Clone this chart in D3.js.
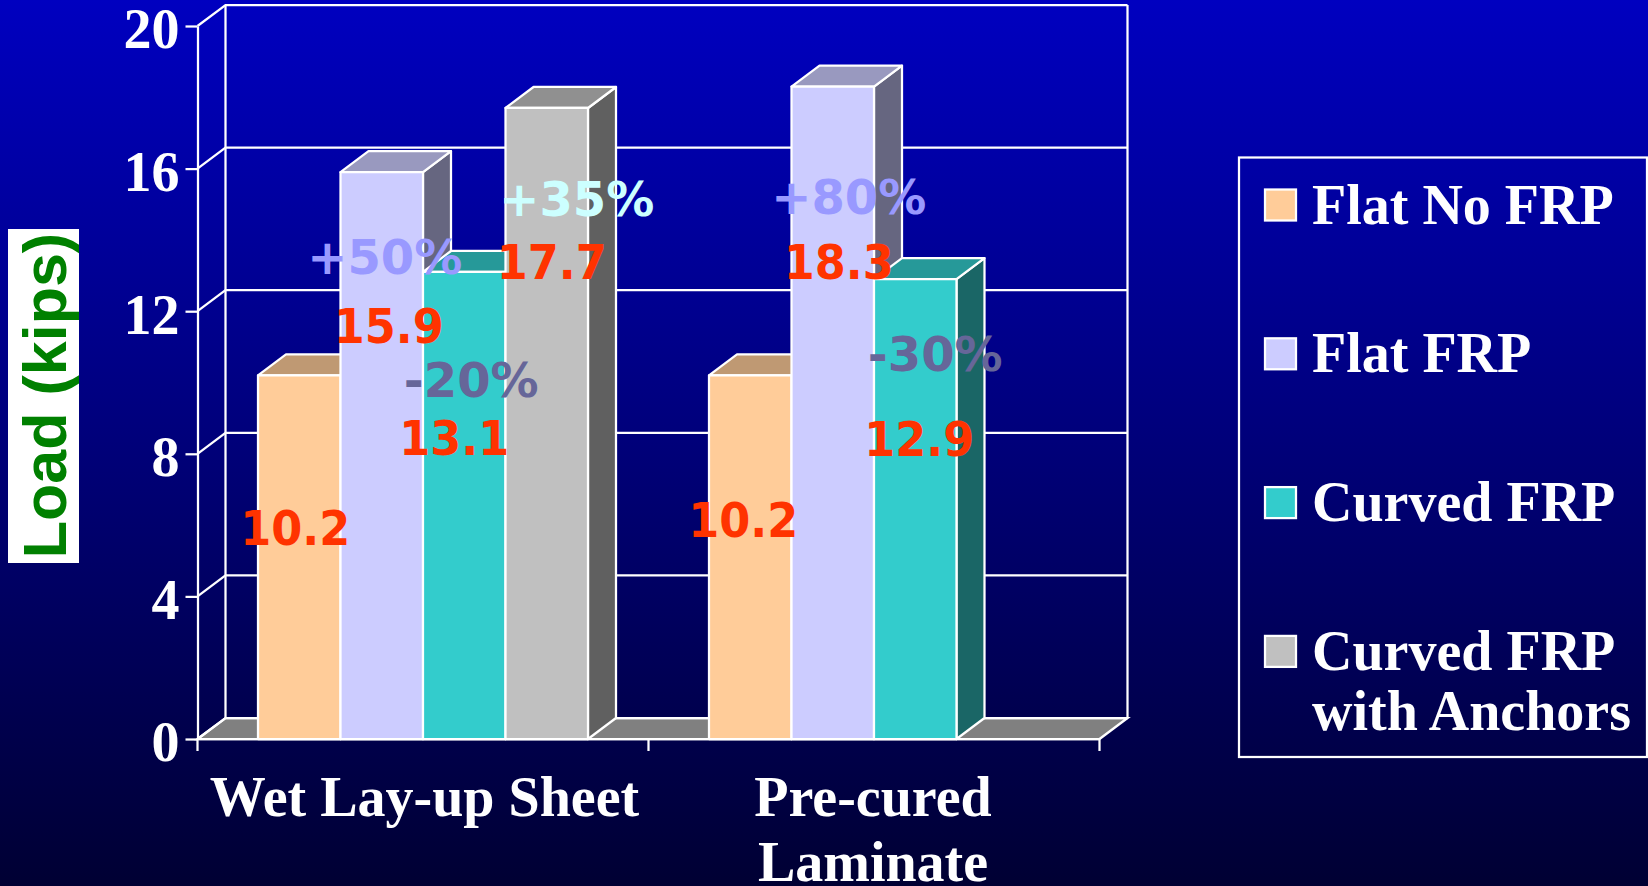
<!DOCTYPE html>
<html lang="en">

<head>
    <meta charset="UTF-8">
    <title>Load (kips)</title>
    <script src="https://d3js.org/d3.v7.min.js"></script>
    <style>
        body {
            margin: 0;
            overflow: hidden;
            background-color: #000033;
        }

        text {
            font-family: "Liberation Serif", serif;
            font-weight: bold;
            fill: #fff;
        }

        .callout {
            font-family: "DejaVu Sans", sans-serif;
            font-size: 48px;
            text-anchor: middle;
        }
    </style>
</head>

<body>
    <script>
        // Chart data
        const categories = ["Wet Lay-up Sheet", "Pre-cured Laminate"];
        const categoryLines = [["Wet Lay-up Sheet"], ["Pre-cured", "Laminate"]];
        const seriesNames = ["Flat No FRP", "Flat FRP", "Curved FRP", "Curved FRP with Anchors"];
        const legendLines = [["Flat No FRP"], ["Flat FRP"], ["Curved FRP"], ["Curved FRP", "with Anchors"]];
        const wetLayupValues = [10.2, 15.9, 13.1, 17.7];
        const preCuredValues = [10.2, 18.3, 12.9, null];
        const seriesColors = ["#ffcc99", "#ccccff", "#33cccc", "#c0c0c0"];
        const yTicks = [0, 4, 8, 12, 16, 20];

        // Percentage changes written over the bars: [category, series, text, colour]
        const changeNotes = [
            [0, 1, "+50%", "#9999ff"],
            [0, 2, "-20%", "#666699"],
            [0, 3, "+35%", "#ccffff"],
            [1, 1, "+80%", "#9999ff"],
            [1, 2, "-30%", "#666699"]
        ];

        // Hand placement of the labels, relative to bar centre and bar top
        const valueLabelNudge = [
            [[-4, 169.5], [7, 171], [-10, 183.5], [5, 171]],
            [[-7, 162], [6, 192.5], [4, 176.5], null]
        ];
        const changeNoteNudge = [[3, 102], [7, 125], [30, 108.5], [16, 127], [20, 92]];

        const width = 1648;
        const height = 886;
        const depthX = 28;
        const depthY = -21;
        const plotLeft = 197.5;
        const plotRight = 1099.5;
        const plotBottom = 739;
        const plotTop = 26;
        const barWidth = 82.5;
        const lineWidth = 2.25;

        const svg = d3.select("body").append("svg")
            .attr("width", width)
            .attr("height", height)
            .style("display", "block");

        // Slide background
        const gradient = svg.append("defs").append("linearGradient")
            .attr("id", "slideBg")
            .attr("x1", 0).attr("y1", 0).attr("x2", 0).attr("y2", 1);
        gradient.append("stop").attr("offset", "0%").attr("stop-color", "#0000c0");
        gradient.append("stop").attr("offset", "100%").attr("stop-color", "#000033");
        svg.append("rect").attr("width", width).attr("height", height).attr("fill", "url(#slideBg)");

        const x = d3.scaleBand().domain(categories).range([plotLeft, plotRight]);
        const xInner = d3.scaleBand().domain(seriesNames)
            .range([(x.bandwidth() - barWidth * 4) / 2, (x.bandwidth() + barWidth * 4) / 2]);
        const y = d3.scaleLinear().domain([0, 20]).range([plotBottom, plotTop]);

        // Floor of the 3D box
        svg.append("path")
            .attr("d", d3.line()([
                [plotLeft, plotBottom],
                [plotLeft + depthX, plotBottom + depthY],
                [plotRight + depthX, plotBottom + depthY],
                [plotRight, plotBottom]
            ]) + "Z")
            .attr("fill", "#808080")
            .attr("stroke", "#fff")
            .attr("stroke-width", lineWidth);

        // Back wall and side wall with gridlines
        const wall = svg.append("g")
            .attr("fill", "none")
            .attr("stroke", "#fff")
            .attr("stroke-width", lineWidth);
        wall.append("line")
            .attr("x1", plotLeft + depthX).attr("x2", plotLeft + depthX)
            .attr("y1", y(0) + depthY).attr("y2", y(20) + depthY);
        wall.append("line")
            .attr("x1", plotRight + depthX).attr("x2", plotRight + depthX)
            .attr("y1", y(0) + depthY).attr("y2", y(20) + depthY);
        yTicks.forEach((t) => {
            wall.append("path").attr("d", d3.line()([
                [plotLeft, y(t)],
                [plotLeft + depthX, y(t) + depthY],
                [plotRight + depthX, y(t) + depthY]
            ]));
        });

        // Y axis
        const yAxis = svg.append("g")
            .attr("transform", `translate(${plotLeft},0)`)
            .call(d3.axisLeft(y).tickValues(yTicks).tickSize(12).tickSizeOuter(0).tickPadding(6));
        yAxis.selectAll("path, line").attr("stroke", "#fff").attr("stroke-width", lineWidth);
        yAxis.selectAll("text")
            .attr("dy", "0.39em")
            .attr("fill", "#fff")
            .style("font-family", "'Liberation Serif', serif")
            .style("font-weight", "bold")
            .style("font-size", "56px");

        // X axis, with ticks on the band edges
        svg.append("line")
            .attr("x1", plotLeft).attr("x2", plotRight)
            .attr("y1", plotBottom).attr("y2", plotBottom)
            .attr("stroke", "#fff").attr("stroke-width", lineWidth);
        const xEdges = categories.map((c) => x(c)).concat([plotRight]);
        svg.append("g").selectAll("line").data(xEdges).join("line")
            .attr("x1", (d) => d).attr("x2", (d) => d)
            .attr("y1", plotBottom).attr("y2", plotBottom + 12)
            .attr("stroke", "#fff").attr("stroke-width", lineWidth);

        categories.forEach((c, i) => {
            categoryLines[i].forEach((line, j) => {
                svg.append("text")
                    .attr("x", x(c) + x.bandwidth() / 2 + 1.5 - i * 2.5)
                    .attr("y", 816 + j * 65)
                    .attr("text-anchor", "middle")
                    .style("font-size", "56px")
                    .text(line);
            });
        });

        // 3D bars, drawn left to right so each one covers its neighbour's side face
        const shade = (color, k) => {
            const c = d3.rgb(color);
            return d3.rgb(c.r * k, c.g * k, c.b * k).formatHex();
        };
        const barCenter = (ci, si) => x(categories[ci]) + xInner(seriesNames[si]) + barWidth / 2;
        const allValues = [wetLayupValues, preCuredValues];

        allValues.forEach((values, ci) => {
            values.forEach((value, si) => {
                if (value === null) return;
                const left = x(categories[ci]) + xInner(seriesNames[si]);
                const right = left + barWidth;
                const top = y(value);
                const bar = svg.append("g")
                    .attr("stroke", "#fff")
                    .attr("stroke-width", lineWidth)
                    .attr("stroke-linejoin", "round");
                bar.append("path")
                    .attr("fill", shade(seriesColors[si], 0.5))
                    .attr("d", d3.line()([
                        [right, top],
                        [right + depthX, top + depthY],
                        [right + depthX, y(0) + depthY],
                        [right, y(0)]
                    ]) + "Z");
                bar.append("path")
                    .attr("fill", shade(seriesColors[si], 0.75))
                    .attr("d", d3.line()([
                        [left, top],
                        [left + depthX, top + depthY],
                        [right + depthX, top + depthY],
                        [right, top]
                    ]) + "Z");
                bar.append("rect")
                    .attr("x", left).attr("y", top)
                    .attr("width", barWidth).attr("height", y(0) - top)
                    .attr("fill", seriesColors[si]);
            });
        });

        // Value labels, squeezed a little since the digits run wide in this face
        allValues.forEach((values, ci) => {
            values.forEach((value, si) => {
                if (value === null) return;
                const nudge = valueLabelNudge[ci][si];
                svg.append("text")
                    .attr("class", "callout")
                    .attr("x", barCenter(ci, si) + nudge[0])
                    .attr("y", y(value) + nudge[1])
                    .attr("textLength", 110)
                    .attr("lengthAdjust", "spacingAndGlyphs")
                    .style("fill", "#ff3300")
                    .text(value.toFixed(1));
            });
        });

        // Percentage notes
        changeNotes.forEach(([ci, si, label, color], i) => {
            svg.append("text")
                .attr("class", "callout")
                .attr("x", barCenter(ci, si) + changeNoteNudge[i][0])
                .attr("y", y(allValues[ci][si]) + changeNoteNudge[i][1])
                .style("fill", color)
                .text(label);
        });

        // Y axis title on its white plate
        svg.append("rect")
            .attr("x", 8).attr("y", 229)
            .attr("width", 71).attr("height", 334)
            .attr("fill", "#fff");
        svg.append("text")
            .attr("transform", "translate(65.5,395.5) rotate(-90)")
            .attr("text-anchor", "middle")
            .style("font-family", "'Liberation Sans', sans-serif")
            .style("font-size", "61px")
            .style("fill", "#008000")
            .text("Load (kips)");

        // Legend
        const legend = svg.append("g");
        legend.append("rect")
            .attr("x", 1239).attr("y", 157.5)
            .attr("width", 408).attr("height", 599.5)
            .attr("fill", "none")
            .attr("stroke", "#fff")
            .attr("stroke-width", lineWidth);

        seriesNames.forEach((name, i) => {
            const baseline = 223.5 + i * 148.8;
            legend.append("rect")
                .attr("x", 1265).attr("y", baseline - 34)
                .attr("width", 31).attr("height", 31)
                .attr("fill", seriesColors[i])
                .attr("stroke", "#fff")
                .attr("stroke-width", lineWidth);
            legendLines[i].forEach((line, j) => {
                legend.append("text")
                    .attr("x", 1312)
                    .attr("y", baseline + j * 60)
                    .style("font-size", "56px")
                    .text(line);
            });
        });
    </script>
</body>

</html>
